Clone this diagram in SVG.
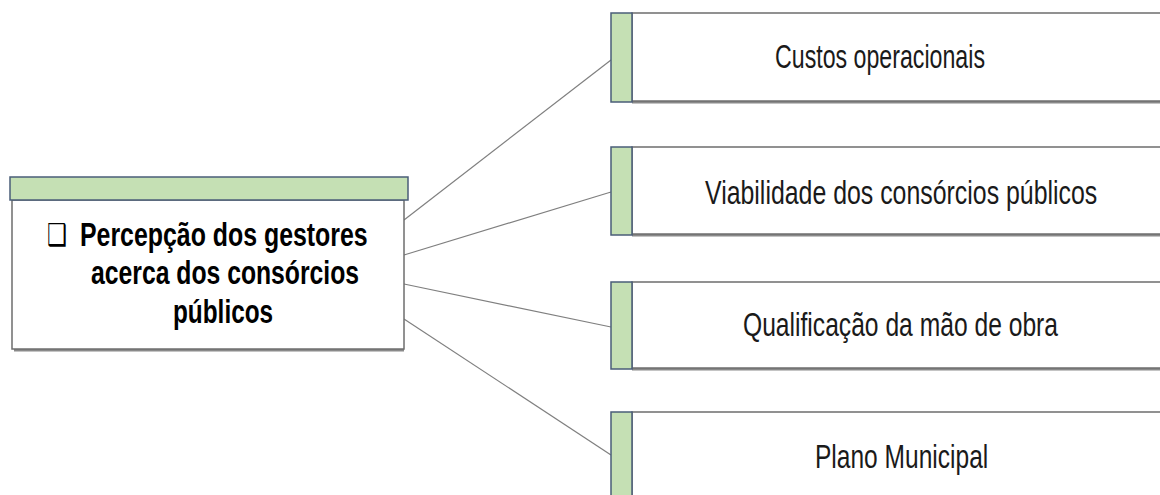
<svg xmlns="http://www.w3.org/2000/svg" width="1160" height="495" viewBox="0 0 1160 495">
<style>
.bar{fill:#C5E0B4;stroke:#4A5D78;stroke-width:1.5}
.box{fill:#ffffff;stroke:#6E6E6E;stroke-width:1.5}
.shadow{fill:none;stroke:#8A8A8A;stroke-width:3}
.conn{stroke:#7F7F7F;stroke-width:1.2;fill:none}
.lbl{font-family:"Liberation Sans",Arial,sans-serif;font-size:34px;fill:#1a1a1a}
.main{font-family:"Liberation Sans",Arial,sans-serif;font-size:34px;font-weight:bold;fill:#000}
.sym{font-family:"DejaVu Sans",sans-serif;font-size:30px;fill:#000}
</style>
<rect width="1160" height="495" fill="#ffffff"/>
<g id="connectors">
<line class="conn" x1="404" y1="220" x2="611" y2="60"/>
<line class="conn" x1="404" y1="255" x2="611" y2="192"/>
<line class="conn" x1="404" y1="284" x2="611" y2="327"/>
<line class="conn" x1="404" y1="319" x2="611" y2="455"/>
</g>
<g id="main-node">
<line class="shadow" x1="14" y1="350" x2="404" y2="350"/>
<rect class="box" x="12" y="200" width="392" height="149"/>
<rect class="bar" x="10" y="177" width="398" height="23"/>
<text class="sym" x="47" y="245" textLength="20" lengthAdjust="spacingAndGlyphs">❑</text>
<text class="main" transform="translate(80,246) scale(0.7,1)" textLength="411" lengthAdjust="spacingAndGlyphs">Percepção dos gestores</text>
<text class="main" transform="translate(91,284) scale(0.7,1)" textLength="383" lengthAdjust="spacingAndGlyphs">acerca dos consórcios</text>
<text class="main" transform="translate(173,323) scale(0.7,1)" textLength="143" lengthAdjust="spacingAndGlyphs">públicos</text>
</g>
<g id="node-custos">
<line class="shadow" x1="632" y1="102" x2="1161" y2="102"/>
<rect class="box" x="632" y="13" width="529" height="88"/>
<rect class="bar" x="611" y="13" width="21" height="89"/>
<text class="lbl" transform="translate(775,68) scale(0.75,1)" textLength="280" lengthAdjust="spacingAndGlyphs">Custos operacionais</text>
</g>
<g id="node-viabilidade">
<line class="shadow" x1="632" y1="235" x2="1161" y2="235"/>
<rect class="box" x="632" y="147" width="529" height="87"/>
<rect class="bar" x="611" y="147" width="21" height="88"/>
<text class="lbl" transform="translate(705,204) scale(0.75,1)" textLength="523" lengthAdjust="spacingAndGlyphs">Viabilidade dos consórcios públicos</text>
</g>
<g id="node-qualificacao">
<line class="shadow" x1="632" y1="369" x2="1161" y2="369"/>
<rect class="box" x="632" y="282" width="529" height="86"/>
<rect class="bar" x="611" y="282" width="21" height="87"/>
<text class="lbl" transform="translate(743,336) scale(0.75,1)" textLength="420" lengthAdjust="spacingAndGlyphs">Qualificação da mão de obra</text>
</g>
<g id="node-plano">
<rect class="box" x="632" y="412" width="529" height="100"/>
<rect class="bar" x="611" y="412" width="21" height="100"/>
<text class="lbl" transform="translate(815,468) scale(0.75,1)" textLength="231" lengthAdjust="spacingAndGlyphs">Plano Municipal</text>
</g>
</svg>
